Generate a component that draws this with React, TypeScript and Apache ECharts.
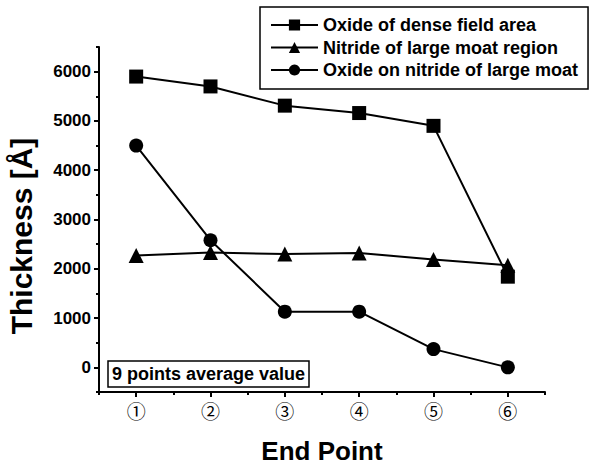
import React, { useEffect, useRef } from "react";
import * as echarts from "echarts";

const endPointLabels = ["①", "②", "③", "④", "⑤", "⑥"];
const endPointPositions = [1, 2, 3, 4, 5, 6];
const xMinorTicks = [0.5, 1.5, 2.5, 3.5, 4.5, 5.5, 6.5];
const yMajorTicks = [0, 1000, 2000, 3000, 4000, 5000, 6000];
const yMinorTicks = [-500, 500, 1500, 2500, 3500, 4500, 5500, 6500];

const oxideDenseField = [5900, 5700, 5310, 5160, 4900, 1840];
const nitrideLargeMoat = [2270, 2330, 2300, 2320, 2190, 2070];
const oxideOnNitride = [4500, 2580, 1130, 1130, 370, 0];

const seriesNames = [
  "Oxide of dense field area",
  "Nitride of large moat region",
  "Oxide on nitride of large moat",
];

const FONT = "Arial, 'Liberation Sans', Helvetica, sans-serif";

export default function App() {
  const ref = useRef<HTMLDivElement>(null);
  useEffect(() => {
    if (!ref.current) return;
    const chart = echarts.init(ref.current, undefined, { renderer: "svg" });
    const toPairs = (arr: number[]) => arr.map((v, i) => [endPointPositions[i], v]);
    const mkSeries = (name: string, data: number[], symbol: string, size: number) => ({
      name,
      type: "line",
      data: toPairs(data),
      symbol,
      symbolSize: size,
      itemStyle: { color: "#000" },
      lineStyle: { color: "#000", width: 2 },
    });
    chart.setOption({
      animation: false,
      backgroundColor: "#fff",
      grid: { left: 99, right: 48, top: 47, bottom: 73, containLabel: false, outerBoundsMode: "none" },
      title: {
        text: "9 points average value",
        left: 108,
        top: 361,
        padding: [3, 4],
        borderColor: "#000",
        borderWidth: 1.5,
        textStyle: { fontFamily: FONT, fontWeight: "bold", fontSize: 18, color: "#000", lineHeight: 20 },
      },
      legend: {
        orient: "vertical",
        left: 260,
        top: 7,
        padding: [9, 10, 10, 10],
        borderColor: "#000",
        borderWidth: 1.5,
        itemWidth: 47,
        itemHeight: 14,
        itemGap: 4.5,
        textStyle: { fontFamily: FONT, fontWeight: "bold", fontSize: 18, color: "#000", lineHeight: 18 },
        data: seriesNames,
      },
      graphic: [
        {
          type: "text",
          x: 21,
          y: 236,
          rotation: Math.PI / 2,
          style: {
            text: "Thickness [Å]",
            fontFamily: FONT,
            fontWeight: "bold",
            fontSize: 30,
            fill: "#000",
            align: "center",
            verticalAlign: "middle",
          },
        },
      ],
      xAxis: [
        {
          type: "value",
          min: 0.5,
          max: 6.5,
          name: "End Point",
          nameLocation: "middle",
          nameGap: 46,
          nameTextStyle: { fontFamily: FONT, fontWeight: "bold", fontSize: 26, color: "#000" },
          axisLine: { show: true, onZero: false, lineStyle: { color: "#000", width: 2 } },
          axisTick: { show: true, customValues: endPointPositions, length: 5, lineStyle: { color: "#000", width: 2 } },
          axisLabel: {
            show: true,
            customValues: endPointPositions,
            formatter: (v: number) => endPointLabels[Math.round(v) - 1] ?? "",
            fontFamily: "'Noto Sans CJK SC', 'DejaVu Sans', sans-serif",
            fontSize: 19,
            color: "#000",
            margin: 9,
          },
          splitLine: { show: false },
        },
        {
          type: "value",
          min: 0.5,
          max: 6.5,
          position: "bottom",
          axisLine: { show: false, onZero: false },
          axisTick: { show: true, customValues: xMinorTicks, length: 3, lineStyle: { color: "#000", width: 2 } },
          axisLabel: { show: false },
          splitLine: { show: false },
        },
      ],
      yAxis: [
        {
          type: "value",
          min: -500,
          max: 6500,
          axisLine: { show: true, onZero: false, lineStyle: { color: "#000", width: 2 } },
          axisTick: { show: true, customValues: yMajorTicks, length: 5, lineStyle: { color: "#000", width: 2 } },
          axisLabel: {
            show: true,
            customValues: yMajorTicks,
            formatter: (v: number) => String(v),
            fontFamily: FONT,
            fontWeight: "bold",
            fontSize: 17,
            color: "#000",
            margin: 8,
          },
          splitLine: { show: false },
        },
        {
          type: "value",
          min: -500,
          max: 6500,
          position: "left",
          axisLine: { show: false, onZero: false },
          axisTick: { show: true, customValues: yMinorTicks, length: 3, lineStyle: { color: "#000", width: 2 } },
          axisLabel: { show: false },
          splitLine: { show: false },
        },
      ],
      series: [
        mkSeries(seriesNames[0], oxideDenseField, "rect", 14),
        mkSeries(seriesNames[1], nitrideLargeMoat, "triangle", 15),
        mkSeries(seriesNames[2], oxideOnNitride, "circle", 14),
      ],
    });
    return () => chart.dispose();
  }, []);
  return <div ref={ref} style={{ width: 593, height: 465, position: "absolute", left: 0, top: 0 }} />;
}
